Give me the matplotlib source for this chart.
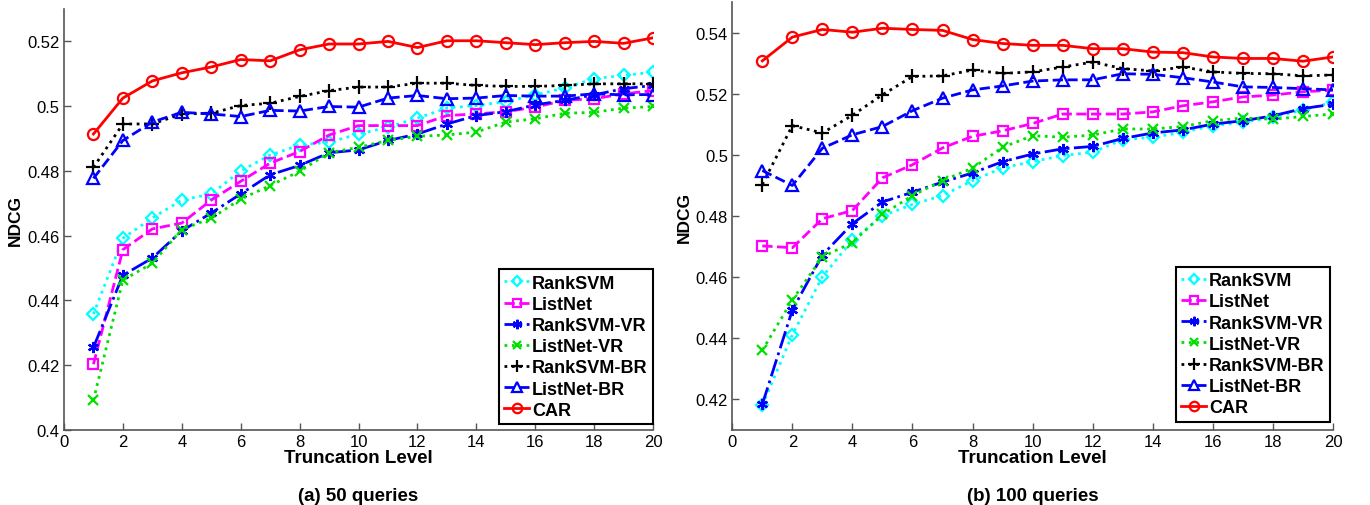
import numpy as np
import matplotlib
matplotlib.use('Agg')
import matplotlib.pyplot as plt

plt.rcParams['font.family'] = ['Liberation Sans', 'DejaVu Sans']

levels = list(range(1, 21))
names = ['RankSVM', 'ListNet', 'RankSVM-VR', 'ListNet-VR', 'RankSVM-BR', 'ListNet-BR', 'CAR']

# (a) 50 queries
q50_ranksvm = [0.4358, 0.4592, 0.4655, 0.4710, 0.4729, 0.4800, 0.4849, 0.4880, 0.4889, 0.4914,
               0.4935, 0.4963, 0.4994, 0.5002, 0.5014, 0.5035, 0.5056, 0.5085, 0.5095, 0.5105]
q50_listnet = [0.4203, 0.4557, 0.4621, 0.4639, 0.4710, 0.4768, 0.4824, 0.4860, 0.4911, 0.4940,
               0.4940, 0.4940, 0.4971, 0.4976, 0.4983, 0.4997, 0.5018, 0.5023, 0.5038, 0.5048]
q50_ranksvm_vr = [0.4255, 0.4478, 0.4531, 0.4615, 0.4670, 0.4729, 0.4788, 0.4817, 0.4856, 0.4865,
                  0.4894, 0.4914, 0.4945, 0.4971, 0.4983, 0.5004, 0.5018, 0.5035, 0.5054, 0.5064]
q50_listnet_vr = [0.4092, 0.4463, 0.4515, 0.4619, 0.4654, 0.4713, 0.4755, 0.4799, 0.4856, 0.4873,
                  0.4894, 0.4907, 0.4911, 0.4920, 0.4951, 0.4961, 0.4978, 0.4981, 0.4994, 0.4999]
q50_ranksvm_br = [0.4811, 0.4945, 0.4945, 0.4976, 0.4978, 0.5002, 0.5009, 0.5030, 0.5048, 0.5059,
                  0.5059, 0.5071, 0.5071, 0.5064, 0.5061, 0.5061, 0.5064, 0.5069, 0.5069, 0.5069]
q50_listnet_br = [0.4777, 0.4894, 0.4951, 0.4981, 0.4976, 0.4968, 0.4987, 0.4985, 0.4999, 0.4997,
                  0.5025, 0.5033, 0.5023, 0.5025, 0.5033, 0.5031, 0.5031, 0.5038, 0.5035, 0.5036]
q50_car = [0.4914, 0.5025, 0.5078, 0.5103, 0.5121, 0.5144, 0.5140, 0.5174, 0.5192, 0.5192,
           0.5200, 0.5181, 0.5202, 0.5202, 0.5196, 0.5190, 0.5196, 0.5200, 0.5194, 0.5211]

# (b) 100 queries
q100_ranksvm = [0.4180, 0.4411, 0.4601, 0.4721, 0.4800, 0.4838, 0.4867, 0.4916, 0.4958, 0.4978,
                0.4998, 0.5009, 0.5050, 0.5058, 0.5074, 0.5096, 0.5107, 0.5123, 0.5148, 0.5172]
q100_listnet = [0.4702, 0.4696, 0.4791, 0.4818, 0.4925, 0.4968, 0.5023, 0.5061, 0.5079, 0.5103,
                0.5134, 0.5134, 0.5134, 0.5141, 0.5161, 0.5174, 0.5190, 0.5196, 0.5207, 0.5212]
q100_ranksvm_vr = [0.4183, 0.4492, 0.4672, 0.4775, 0.4846, 0.4878, 0.4911, 0.4941, 0.4978, 0.5003,
                   0.5020, 0.5028, 0.5054, 0.5072, 0.5082, 0.5101, 0.5112, 0.5128, 0.5152, 0.5166]
q100_listnet_vr = [0.4360, 0.4525, 0.4666, 0.4713, 0.4805, 0.4867, 0.4916, 0.4957, 0.5025, 0.5063,
                   0.5058, 0.5065, 0.5085, 0.5085, 0.5093, 0.5112, 0.5121, 0.5117, 0.5126, 0.5134]
q100_ranksvm_br = [0.4903, 0.5096, 0.5072, 0.5130, 0.5197, 0.5257, 0.5259, 0.5278, 0.5267, 0.5272,
                   0.5288, 0.5304, 0.5283, 0.5275, 0.5288, 0.5272, 0.5267, 0.5266, 0.5259, 0.5262]
q100_listnet_br = [0.4949, 0.4900, 0.5022, 0.5066, 0.5093, 0.5145, 0.5186, 0.5213, 0.5226, 0.5242,
                   0.5246, 0.5246, 0.5266, 0.5264, 0.5253, 0.5239, 0.5223, 0.5221, 0.5217, 0.5213]
q100_car = [0.5308, 0.5386, 0.5411, 0.5402, 0.5415, 0.5411, 0.5408, 0.5378, 0.5365, 0.5359,
            0.5359, 0.5348, 0.5348, 0.5337, 0.5335, 0.5321, 0.5316, 0.5316, 0.5307, 0.5321]

# estilo de cada serie (color, linea, marcador, tamaño)
estilos = [
    ('#00ffff', ':', 'D', 6.5),
    ('#ff00ff', '--', 's', 7),
    ('#0000ff', '-.', (6, 2, 0), 8),
    ('#00e000', ':', 'x', 7),
    ('black', ':', '+', 10),
    ('#0000ff', '--', '^', 8),
    ('#ff0000', '-', 'o', 8),
]

fig = plt.figure(figsize=(13.7, 5.06), dpi=100)
ax1 = fig.add_axes([0.0467, 0.1482, 0.4300, 0.8320])
ax2 = fig.add_axes([0.5345, 0.1488, 0.4385, 0.8447])

paneles = [
    (ax1, [q50_ranksvm, q50_listnet, q50_ranksvm_vr, q50_listnet_vr, q50_ranksvm_br, q50_listnet_br, q50_car],
     (0.4, 0.53), np.arange(0.40, 0.521, 0.02), ['0.4', '0.42', '0.44', '0.46', '0.48', '0.5', '0.52'],
     '(a) 50 queries', (1.0, 0.014)),
    (ax2, [q100_ranksvm, q100_listnet, q100_ranksvm_vr, q100_listnet_vr, q100_ranksvm_br, q100_listnet_br, q100_car],
     (0.41, 0.55), np.arange(0.42, 0.541, 0.02), ['0.42', '0.44', '0.46', '0.48', '0.5', '0.52', '0.54'],
     '(b) 100 queries', (0.995, 0.019)),
]

for ax, series, ylim, yticks, ylabels, sub, anchor in paneles:
    for nombre, ys, (c, ls, mk, ms) in zip(names, series, estilos):
        ax.plot(levels, ys, color=c, linestyle=ls, marker=mk, markersize=ms,
                markerfacecolor='none', markeredgecolor=c, markeredgewidth=1.6,
                linewidth=2, label=nombre)
    ax.set_xlim(0, 20)
    ax.set_ylim(*ylim)
    ax.set_xticks(range(0, 21, 2))
    ax.set_yticks(yticks)
    ax.set_yticklabels(ylabels)
    ax.spines['top'].set_visible(False)
    ax.spines['right'].set_visible(False)
    for s in ['left', 'bottom']:
        ax.spines[s].set_color('#555555')
        ax.spines[s].set_linewidth(1.2)
    ax.tick_params(direction='in', length=5, width=1, color='#555555', labelsize=12, pad=3)
    ax.set_xlabel('Truncation Level', fontsize=13.5, fontweight='bold', labelpad=0)
    ax.set_ylabel('NDCG', fontsize=12.5, fontweight='bold', labelpad=3)
    ax.text(0.5, -0.135, sub, transform=ax.transAxes, ha='center', va='top',
            fontsize=13.5, fontweight='bold')
    leg = ax.legend(loc='lower right', bbox_to_anchor=anchor, prop={'weight': 'bold', 'size': 13},
                    handlelength=1.4, handletextpad=0.15, labelspacing=0.23, markerscale=0.85,
                    borderpad=0.3, borderaxespad=0.0, fancybox=False, framealpha=1)
    leg.get_frame().set_edgecolor('black')
    leg.get_frame().set_linewidth(1.5)

fig.savefig('out.png', dpi=100)
